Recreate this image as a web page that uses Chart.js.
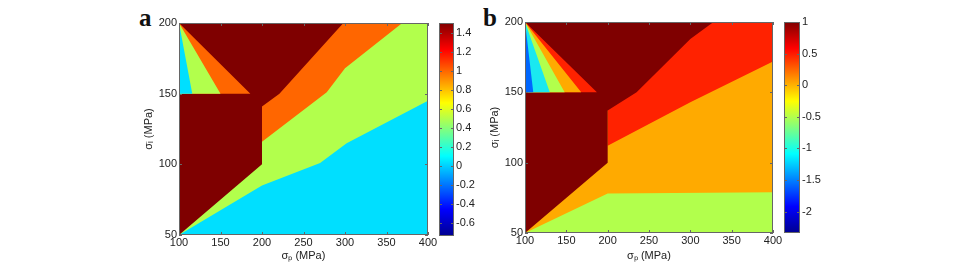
<!DOCTYPE html>
<html>
<head>
<meta charset="utf-8">
<script src="https://cdn.jsdelivr.net/npm/chart.js@4/dist/chart.umd.min.js"></script>
<style>
  body { margin: 0; background: #fff; width: 965px; height: 266px; position: relative; overflow: hidden; }
  canvas { position: absolute; top: 0; }
  .tag { position: absolute; font: bold 25px "Liberation Serif", "Times New Roman", serif; color: #111; }
</style>
</head>
<body>
<div class="tag" style="left:139px;top:4px">a</div>
<div class="tag" style="left:483px;top:4px">b</div>
<canvas id="mainA" width="310" height="266" style="left:130px"></canvas>
<canvas id="barA" width="40" height="266" style="left:439px"></canvas>
<canvas id="mainB" width="309" height="266" style="left:476px"></canvas>
<canvas id="barB" width="40" height="266" style="left:784px"></canvas>
<script>
// axis ticks (sigma_p in MPa on x, sigma_i in MPa on y)
const xTicks = [100, 150, 200, 250, 300, 350, 400];
const yTicks = [50, 100, 150, 200];

// panel a - contour boundaries, [sigma_p, sigma_i]
const aLow = [[100, 50], [400, 50], [400, 200], [100, 200]];
const aMid = [[100, 50], [200, 85], [270, 101], [302, 115], [400, 145], [400, 200], [100, 200]];
const aHigh = [[200, 116], [278, 151], [300, 168], [369, 200], [200, 200]];
const aTop = [[100, 50], [200, 100], [200, 141], [221, 150], [298, 200], [100, 200]];
const aFanHigh = [[100, 200], [100, 150], [186, 150]];
const aFanMid = [[100, 200], [100, 150], [150, 150]];
const aFanLow = [[100, 200], [100, 150], [116, 150]];

// panel b
const bLow = [[100, 50], [400, 50], [400, 200], [100, 200]];
const bMid = [[100, 50], [200, 78], [400, 79], [400, 200], [100, 200]];
const bHigh = [[200, 112], [300, 143], [400, 172], [400, 200], [200, 200]];
const bTop = [[100, 50], [200, 100], [200, 137], [235, 150], [300, 188], [328, 200], [100, 200]];
const bFanRed = [[100, 200], [100, 150], [187, 150]];
const bFanOrange = [[100, 200], [100, 150], [168, 150]];
const bFanGreen = [[100, 200], [100, 150], [148, 150]];
const bFanCyan = [[100, 200], [100, 150], [130, 150]];
const bFanBlue = [[100, 200], [100, 150], [110, 150]];

// colorbars
const aBarRange = [-0.74, 1.5];
const aBarTicks = [-0.6, -0.4, -0.2, 0, 0.2, 0.4, 0.6, 0.8, 1, 1.2, 1.4];
const bBarRange = [-2.34, 1];
const bBarTicks = [-2, -1.5, -1, -0.5, 0, 0.5, 1];

Chart.defaults.font.family = '"Liberation Sans", Arial, sans-serif';
Chart.defaults.font.size = 11;
Chart.defaults.color = '#222';
Chart.defaults.animation = false;

// MATLAB-like box with inward tick marks
const boxPlugin = {
  id: 'box',
  afterDraw(chart) {
    const { ctx, chartArea: a, scales } = chart;
    ctx.save();
    ctx.strokeStyle = '#666';
    ctx.lineWidth = 1;
    ctx.strokeRect(Math.round(a.left) + 0.5, Math.round(a.top) + 0.5, Math.round(a.width) - 1, Math.round(a.height) - 1);
    ctx.beginPath();
    Object.values(scales).forEach(s => {
      if (!s.options.display) return;
      s.ticks.forEach(t => {
        const p = Math.round(s.getPixelForValue(t.value)) + 0.5;
        if (s.isHorizontal()) {
          ctx.moveTo(p, a.bottom); ctx.lineTo(p, a.bottom - 3);
          ctx.moveTo(p, a.top); ctx.lineTo(p, a.top + 3);
        } else {
          ctx.moveTo(a.left, p); ctx.lineTo(a.left + 3, p);
          ctx.moveTo(a.right, p); ctx.lineTo(a.right - 3, p);
        }
      });
    });
    ctx.stroke();
    ctx.restore();
  }
};

function layerSets(layers) {
  // first layer is the bottom one; higher order is drawn first
  return layers.map((l, i) => ({
    data: l.pts.concat([l.pts[0]]).map(p => ({ x: p[0], y: p[1] })),
    backgroundColor: l.color,
    borderColor: l.color,
    borderWidth: 0,
    pointRadius: 0,
    tension: 0,
    fill: 'shape',
    order: layers.length - i
  }));
}

function contourChart(id, layers, padTop, xHeight) {
  return new Chart(document.getElementById(id), {
    type: 'line',
    data: { datasets: layerSets(layers) },
    options: {
      responsive: false,
      layout: { padding: { top: padTop, right: 12, left: 0, bottom: 0 } },
      plugins: { legend: { display: false }, tooltip: { enabled: false } },
      scales: {
        x: {
          type: 'linear', min: 100, max: 400,
          afterBuildTicks: s => { s.ticks = xTicks.map(v => ({ value: v })); },
          afterFit: s => { s.height = xHeight; },
          grid: { display: false, drawTicks: false },
          border: { display: false },
          ticks: { padding: 1, maxRotation: 0, callback: v => String(v) },
          title: { display: true, text: 'σₚ (MPa)', padding: { top: 0, bottom: 3 } }
        },
        y: {
          type: 'linear', min: 50, max: 200,
          afterBuildTicks: s => { s.ticks = yTicks.map(v => ({ value: v })); },
          afterFit: s => { s.width = 49; },
          grid: { display: false, drawTicks: false },
          border: { display: false },
          ticks: { padding: 2, callback: v => String(v) },
          title: { display: true, text: 'σᵢ (MPa)', padding: { top: 12, bottom: 0 } }
        }
      }
    },
    plugins: [boxPlugin]
  });
}

// jet colormap stops
const jetStops = [[0, '#00008f'], [0.125, '#0000ff'], [0.375, '#00ffff'], [0.625, '#ffff00'], [0.875, '#ff0000'], [1, '#800000']];

function colorBar(id, range, ticks, padTop, padBottom, axisWidth) {
  return new Chart(document.getElementById(id), {
    type: 'bar',
    data: {
      labels: [''],
      datasets: [{
        data: [range],
        barPercentage: 1,
        categoryPercentage: 1,
        backgroundColor: ctx => {
          const a = ctx.chart.chartArea;
          if (!a) return '#800000';
          const g = ctx.chart.ctx.createLinearGradient(0, a.bottom, 0, a.top);
          jetStops.forEach(s => g.addColorStop(s[0], s[1]));
          return g;
        }
      }]
    },
    options: {
      responsive: false,
      layout: { padding: { top: padTop, bottom: padBottom, left: 0, right: 0 } },
      plugins: { legend: { display: false }, tooltip: { enabled: false } },
      scales: {
        x: { display: false },
        y: {
          position: 'right', min: range[0], max: range[1],
          afterBuildTicks: s => { s.ticks = ticks.map(v => ({ value: v })); },
          afterFit: s => { s.width = axisWidth; },
          grid: { display: false, drawTicks: false },
          border: { display: false },
          ticks: { padding: 2, callback: v => String(+v.toFixed(2)) }
        }
      }
    },
    plugins: [boxPlugin]
  });
}

contourChart('mainA', [
  { pts: aLow, color: '#00dfff' },
  { pts: aMid, color: '#b2ff4c' },
  { pts: aHigh, color: '#ff6600' },
  { pts: aTop, color: '#7f0000' },
  { pts: aFanHigh, color: '#ff6600' },
  { pts: aFanMid, color: '#b2ff4c' },
  { pts: aFanLow, color: '#00dfff' }
], 23, 31);

contourChart('mainB', [
  { pts: bLow, color: '#b2ff4c' },
  { pts: bMid, color: '#ffaa00' },
  { pts: bHigh, color: '#ff2200' },
  { pts: bTop, color: '#7f0000' },
  { pts: bFanRed, color: '#ff2200' },
  { pts: bFanOrange, color: '#ffaa00' },
  { pts: bFanGreen, color: '#b2ff4c' },
  { pts: bFanCyan, color: '#1ae8f0' },
  { pts: bFanBlue, color: '#0066ff' }
], 22, 33);

colorBar('barA', aBarRange, aBarTicks, 23, 30, 25);
colorBar('barB', bBarRange, bBarTicks, 22, 33, 24);
</script>
</body>
</html>
